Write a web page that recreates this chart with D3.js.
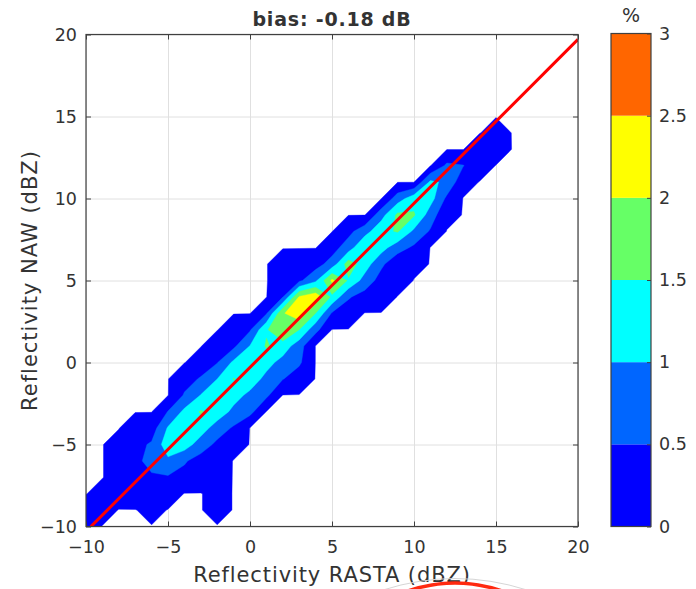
<!DOCTYPE html>
<html><head><meta charset="utf-8">
<script src="https://cdn.jsdelivr.net/npm/d3@7"></script>
<style>
body{margin:0;background:#fff}
text{font-family:"DejaVu Sans",sans-serif;fill:#333}
</style>
</head><body>
<svg id="chart" width="696" height="589"></svg>
<script>
// ---------- data ----------
const xGrid = [-10,-9,-8,-7,-6,-5,-4,-3,-2,-1,0,1,2,3,4,5,6,7,8,9,10,11,12,13,14,15,16];
const yGrid = [-10,-9,-8,-7,-6,-5,-4,-3,-2,-1,0,1,2,3,4,5,6,7,8,9,10,11,12,13,14,15];
// percentage of points per 1 dB x 1 dB bin (rows = yGrid, columns = xGrid)
const density = [
 [0.15,0,0,0,0,0,0,0,0,0,0,0,0,0,0,0,0,0,0,0,0,0,0,0,0,0,0],
 [0.2,0.15,0,0,0.1,0,0,0,0.1,0,0,0,0,0,0,0,0,0,0,0,0,0,0,0,0,0,0],
 [0,0.15,0.2,0.25,0.25,0.2,0,0,0.1,0,0,0,0,0,0,0,0,0,0,0,0,0,0,0,0,0,0],
 [0,0,0.15,0.3,0.42,0.45,0.35,0.25,0.12,0,0,0,0,0,0,0,0,0,0,0,0,0,0,0,0,0,0],
 [0,0,0.15,0.35,0.7,0.9,0.55,0.3,0.15,0,0,0,0,0,0,0,0,0,0,0,0,0,0,0,0,0,0],
 [0,0,0.15,0.35,0.56,1.3,1.25,0.75,0.39,0.15,0,0,0,0,0,0,0,0,0,0,0,0,0,0,0,0,0],
 [0,0,0,0.2,0.25,1.05,1.35,1.25,0.75,0.44,0,0,0,0,0,0,0,0,0,0,0,0,0,0,0,0,0],
 [0,0,0,0,0,0.52,1.12,1.55,1.3,0.87,0.65,0,0,0,0,0,0,0,0,0,0,0,0,0,0,0,0],
 [0,0,0,0,0,0,0.55,1.02,1.35,1.2,0.87,0.6,0,0,0,0,0,0,0,0,0,0,0,0,0,0,0],
 [0,0,0,0,0,0,0.3,0.55,1.0,1.52,1.3,0.84,0.52,0.23,0,0,0,0,0,0,0,0,0,0,0,0,0],
 [0,0,0,0,0,0,0,0.2,0.48,1.1,1.4,1.2,0.8,0.58,0,0,0,0,0,0,0,0,0,0,0,0,0],
 [0,0,0,0,0,0,0,0,0.2,0.4,1.02,1.55,1.3,0.7,0,0,0,0,0,0,0,0,0,0,0,0,0],
 [0,0,0,0,0,0,0,0,0,0.2,0.45,1.45,1.95,1.5,0.65,0,0,0,0,0,0,0,0,0,0,0,0],
 [0,0,0,0,0,0,0,0,0,0,0,0.45,1.95,2.35,1.5,0.45,0.25,0,0,0,0,0,0,0,0,0,0],
 [0,0,0,0,0,0,0,0,0,0,0,0,0.48,2.05,2.35,1.4,0.55,0.3,0.2,0,0,0,0,0,0,0,0],
 [0,0,0,0,0,0,0,0,0,0,0,0,0.15,0.4,0.9,2.1,1.45,0.8,0.3,0.2,0,0,0,0,0,0,0],
 [0,0,0,0,0,0,0,0,0,0,0,0,0.15,0.2,0.3,0.7,1.75,1.25,0.6,0.15,0.1,0,0,0,0,0,0],
 [0,0,0,0,0,0,0,0,0,0,0,0,0,0,0,0.3,0.75,1.5,1.2,0.7,0.41,0,0,0,0,0,0],
 [0,0,0,0,0,0,0,0,0,0,0,0,0,0,0,0,0.35,0.8,1.35,1.55,0.9,0.45,0,0,0,0,0],
 [0,0,0,0,0,0,0,0,0,0,0,0,0,0,0,0,0,0,0.8,1.6,1.55,0.75,0.1,0,0,0,0],
 [0,0,0,0,0,0,0,0,0,0,0,0,0,0,0,0,0,0,0,0.75,1.3,1.2,0.4,0,0,0,0],
 [0,0,0,0,0,0,0,0,0,0,0,0,0,0,0,0,0,0,0,0,0,1.1,0.9,0.15,0,0,0],
 [0,0,0,0,0,0,0,0,0,0,0,0,0,0,0,0,0,0,0,0,0,0,0.6,0.52,0.2,0,0],
 [0,0,0,0,0,0,0,0,0,0,0,0,0,0,0,0,0,0,0,0,0,0,0,0,0.3,0.2,0],
 [0,0,0,0,0,0,0,0,0,0,0,0,0,0,0,0,0,0,0,0,0,0,0,0,0,0.15,0],
 [0,0,0,0,0,0,0,0,0,0,0,0,0,0,0,0,0,0,0,0,0,0,0,0,0,0,0]
];
const levels = [0.01, 0.5, 1, 1.5, 2, 2.5];
const levelColors = ["#0000ff","#0066ff","#00ffff","#66ff66","#ffff00","#ff6600"];
const cbTicks = [0, 0.5, 1, 1.5, 2, 2.5, 3];
const cbTickLabels = ["0","0.5","1","1.5","2","2.5","3"];
const xTicks = [-10,-5,0,5,10,15,20];
const yTicks = [-10,-5,0,5,10,15,20];
const lineX = [-9.7, 20];
const lineY = [-10, 19.7];
const titleText = "bias: -0.18 dB";
const xLabel = "Reflectivity RASTA (dBZ)";
const yLabel = "Reflectivity NAW (dBZ)";
const cbLabel = "%";

// ---------- layout ----------
const L = 86, R = 578, T = 34.5, B = 526.5;
const cbL = 611, cbR = 651;
const svg = d3.select("#chart");
const x = d3.scaleLinear().domain([-10, 20]).range([L, R]);
const y = d3.scaleLinear().domain([-10, 20]).range([B, T]);

svg.append("rect").attr("width",696).attr("height",589).attr("fill","#fff");

// grid
const grid = svg.append("g");
grid.append("g").attr("transform",`translate(0,${B})`)
  .call(d3.axisBottom(x).tickValues(xTicks).tickSize(-(B-T)).tickFormat(""))
  .call(g=>g.select(".domain").remove())
  .call(g=>g.selectAll("line").attr("stroke","#e0e0e0"));
grid.append("g").attr("transform",`translate(${L},0)`)
  .call(d3.axisLeft(y).tickValues(yTicks).tickSize(-(R-L)).tickFormat(""))
  .call(g=>g.select(".domain").remove())
  .call(g=>g.selectAll("line").attr("stroke","#e0e0e0"));

// contours
svg.append("clipPath").attr("id","plotClip").append("rect")
  .attr("x",L).attr("y",T).attr("width",R-L).attr("height",B-T);
const nx = xGrid.length, ny = yGrid.length;
const flat = [];
density.forEach(row => row.forEach(v => flat.push(v)));
const contours = d3.contours().size([nx, ny]).thresholds(levels)(flat);
const stepX = xGrid[1]-xGrid[0], stepY = yGrid[1]-yGrid[0];
const proj = d3.geoTransform({point: function(cx, cy){
  this.stream.point(x(xGrid[0] + (cx-0.5)*stepX), y(yGrid[0] + (cy-0.5)*stepY));
}});
const path = d3.geoPath(proj);
svg.append("g").attr("clip-path","url(#plotClip)")
  .selectAll("path").data(contours).join("path")
  .attr("d", path)
  .attr("fill", (d,i)=>levelColors[i])
  .attr("stroke", (d,i)=>levelColors[i]).attr("stroke-width",0.4);

// bias line
svg.append("g").attr("clip-path","url(#plotClip)").append("path")
  .datum(lineX.map((v,i)=>[v,lineY[i]]))
  .attr("d", d3.line().x(d=>x(d[0])).y(d=>y(d[1])))
  .attr("stroke","#ff0000").attr("stroke-width",3).attr("fill","none");

// axes
const axColor = "#404040";
function styleAxis(g){
  g.select(".domain").remove();
  g.selectAll("line").attr("stroke",axColor);
  g.selectAll("text").attr("font-size",17.5).attr("fill","#333")
   .style("font-family","DejaVu Sans, sans-serif");
}
svg.append("g").attr("transform",`translate(0,${B})`)
  .call(d3.axisBottom(x).tickValues(xTicks).tickSizeInner(-5).tickSizeOuter(0).tickPadding(14))
  .call(styleAxis);
svg.append("g").attr("transform",`translate(${L},0)`)
  .call(d3.axisLeft(y).tickValues(yTicks).tickSizeInner(-5).tickSizeOuter(0).tickPadding(9))
  .call(styleAxis);
svg.append("g").attr("transform",`translate(0,${T})`)
  .call(d3.axisTop(x).tickValues(xTicks).tickSizeInner(-5).tickSizeOuter(0).tickFormat(""))
  .call(styleAxis);
svg.append("g").attr("transform",`translate(${R},0)`)
  .call(d3.axisRight(y).tickValues(yTicks).tickSizeInner(-5).tickSizeOuter(0).tickFormat(""))
  .call(styleAxis);
svg.append("rect").attr("x",L).attr("y",T).attr("width",R-L).attr("height",B-T)
  .attr("fill","none").attr("stroke",axColor).attr("stroke-width",1.2);

// labels
svg.append("text").attr("x",(L+R)/2).attr("y",26).attr("text-anchor","middle")
  .attr("font-size",19).attr("font-weight","bold").attr("fill","#111")
  .style("letter-spacing","0.8px").text(titleText);
svg.append("text").attr("x",(L+R)/2).attr("y",582).attr("text-anchor","middle")
  .attr("font-size",21).style("letter-spacing","0.9px").text(xLabel);
svg.append("text").attr("transform",`translate(37,${(T+B)/2}) rotate(-90)`)
  .attr("text-anchor","middle").attr("font-size",21).style("letter-spacing","1px").text(yLabel);

// colorbar
const cb = d3.scaleLinear().domain([0,3]).range([B, T-1]);
const cbg = svg.append("g");
cbg.selectAll("rect.band").data(levelColors).join("rect").attr("class","band")
  .attr("x",cbL).attr("width",cbR-cbL)
  .attr("y",(d,i)=>cb(cbTicks[i+1])).attr("height",(d,i)=>cb(cbTicks[i])-cb(cbTicks[i+1]))
  .attr("fill",d=>d);
cbg.append("g").attr("transform",`translate(${cbR},0)`)
  .call(d3.axisRight(cb).tickValues(cbTicks).tickFormat((d,i)=>cbTickLabels[i])
        .tickSizeInner(-4).tickSizeOuter(0).tickPadding(8))
  .call(styleAxis);
cbg.append("rect").attr("x",cbL).attr("y",cb(3)).attr("width",cbR-cbL).attr("height",cb(0)-cb(3))
  .attr("fill","none").attr("stroke",axColor).attr("stroke-width",1.2);
svg.append("text").attr("x",(cbL+cbR)/2).attr("y",22).attr("text-anchor","middle")
  .attr("font-size",19).text(cbLabel);

// decoration partially visible at bottom edge
svg.append("path").attr("d","M383,590 Q455,567 527,590").attr("fill","none")
  .attr("stroke","#d6d6d6").attr("stroke-width",1);
svg.append("path").attr("d","M405,592 Q455,574 505,592").attr("fill","none")
  .attr("stroke","#ff2a10").attr("stroke-width",3.5);
</script>
</body></html>
